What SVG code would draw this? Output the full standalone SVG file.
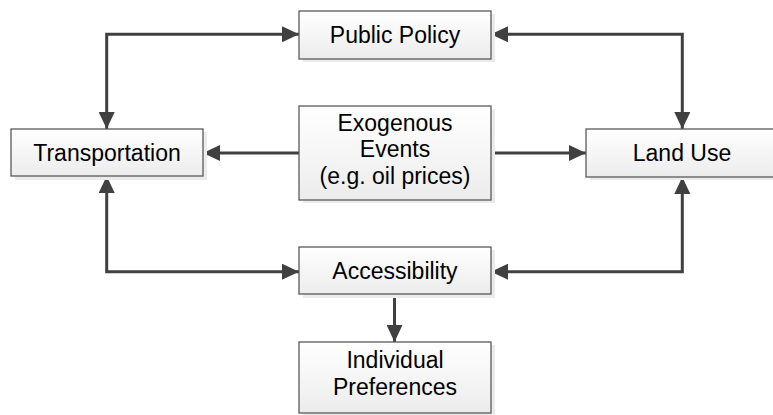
<svg xmlns="http://www.w3.org/2000/svg" width="773" height="415" viewBox="0 0 773 415">
<defs>
<linearGradient id="g" x1="0" y1="0" x2="0" y2="1">
<stop offset="0" stop-color="#ffffff"/>
<stop offset="1" stop-color="#ececec"/>
</linearGradient>
<marker id="ah" viewBox="0 0 17 16" refX="17" refY="8" markerWidth="17" markerHeight="16" markerUnits="userSpaceOnUse" orient="auto-start-reverse">
<path d="M0,0 L17,8 L0,16 Z" fill="#404040"/>
</marker>
<style>
.box{fill:url(#g);stroke:#5a5a5a;stroke-width:1.3}
.sh{fill:#ebebeb}
.t{font-family:"Liberation Sans",Arial,sans-serif;font-size:23px;fill:#000;text-anchor:middle}
.c{fill:none;stroke:#404040;stroke-width:3}
</style>
</defs>
<rect width="773" height="415" fill="#ffffff"/>
<g id="connectors">
<path class="c" d="M106.7,129 V34.3 H299" marker-start="url(#ah)" marker-end="url(#ah)"/>
<path class="c" d="M491,34.3 H682.3 V129" marker-start="url(#ah)" marker-end="url(#ah)"/>
<path class="c" d="M299,153 H203" marker-end="url(#ah)"/>
<path class="c" d="M491,153 H586" marker-end="url(#ah)"/>
<path class="c" d="M106.7,176 V271.7 H299" marker-start="url(#ah)" marker-end="url(#ah)"/>
<path class="c" d="M682.3,177 V271.7 H491" marker-start="url(#ah)" marker-end="url(#ah)"/>
<path class="c" d="M394.5,294 V342" marker-end="url(#ah)"/>
</g>
<g id="public-policy">
<rect class="sh" x="303" y="14" width="192" height="48"/>
<rect class="box" x="299" y="11" width="192" height="48"/>
<text class="t" x="395" y="43">Public Policy</text>
</g>
<g id="transportation">
<rect class="sh" x="15" y="132" width="192" height="48"/>
<rect class="box" x="11" y="129" width="192" height="47"/>
<text class="t" x="107" y="160.5">Transportation</text>
</g>
<g id="exogenous-events">
<rect class="sh" x="303" y="109" width="192" height="94"/>
<rect class="box" x="299" y="106" width="192" height="94"/>
<text class="t" x="395" y="130.5">Exogenous</text>
<text class="t" x="395" y="157">Events</text>
<text class="t" x="395" y="183.5">(e.g. oil prices)</text>
</g>
<g id="land-use">
<rect class="sh" x="590" y="132" width="192" height="48"/>
<rect class="box" x="586" y="129" width="192" height="48"/>
<text class="t" x="682" y="161">Land Use</text>
</g>
<g id="accessibility">
<rect class="sh" x="303" y="250" width="192" height="48"/>
<rect class="box" x="299" y="247" width="192" height="47"/>
<text class="t" x="395" y="278.5">Accessibility</text>
</g>
<g id="individual-preferences">
<rect class="sh" x="303" y="345" width="192" height="72"/>
<rect class="box" x="299" y="342" width="192" height="71"/>
<text class="t" x="395" y="367.5">Individual</text>
<text class="t" x="395" y="395">Preferences</text>
</g>
</svg>
